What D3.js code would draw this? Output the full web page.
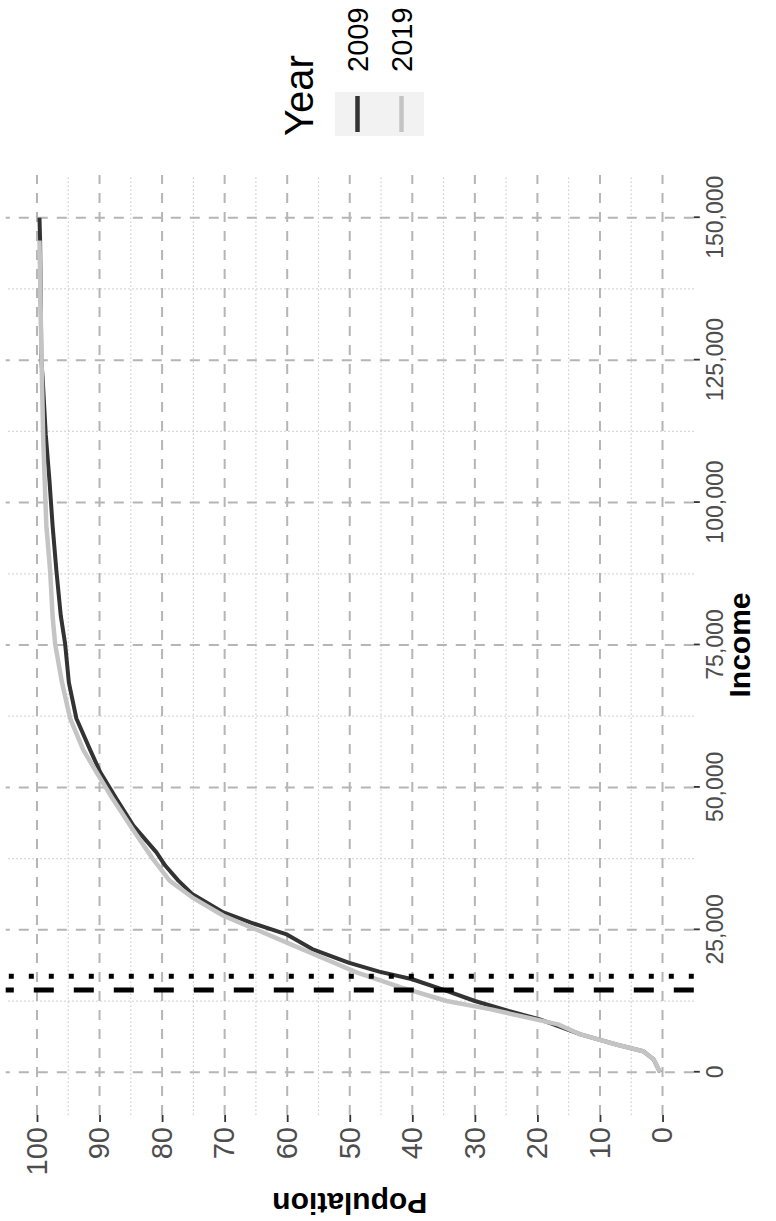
<!DOCTYPE html>
<meta charset="utf-8">
<script src="https://d3js.org/d3.v7.min.js"></script>
<style>
    body { margin: 0; background: white; }
    svg { display: block; font-family: "Liberation Sans", Arial, sans-serif; }
    .tick line { stroke: #333; stroke-width: 1.8; }
</style>
<body>
<div id="chart"></div>
<script>
    // cumulative share of population (%) against income
    const pop2009 = [0.4, 1.4, 3.1, 7.4, 13.1, 19.6, 24.6, 30, 34.5, 40, 45.3, 50.2, 56, 60.2, 65.9, 70.2,
                     75.2, 77.4, 79.5, 80.9, 84.6, 87.3, 89.9, 91.5, 93.7, 94.9, 95.5, 96.2, 96.9, 97.5,
                     98, 98.6, 99.1, 99.3, 99.5, 99.6];
    const inc2009 = [0, 2240, 3700, 4880, 6640, 9280, 10750, 12510, 14270, 16330, 17670, 19260, 21620, 24260, 26300, 28070,
                     31310, 33650, 36290, 38600, 43300, 48000, 52700, 56600, 62100, 68400, 75200, 80200, 88100, 95900,
                     103800, 112000, 122000, 125000, 146000, 150000];

    const pop2019 = [0.4, 1.4, 3.1, 7.4, 13.1, 16.7, 20.3, 27.4, 34.5, 41.7, 48.8, 54.5, 59.5, 64.5, 70.2,
                     75.2, 78.8, 81.5, 84.6, 87.9, 90.5, 92.6, 94.7, 96, 97.1, 97.5, 97.9, 98.5, 99,
                     99.3, 99.6];
    const inc2019 = [0, 2240, 3700, 4880, 6640, 8400, 9280, 11040, 12510, 14850, 17500, 20140, 22490, 24840, 27480,
                     30710, 33650, 37500, 42500, 48000, 52700, 56600, 62100, 68400, 75200, 80000, 88100, 95900, 111000,
                     126600, 146000];

    const years = ["2009", "2019"];
    const yearColor = ["#333333", "#c4c4c4"];
    const refIncome = [14450, 16860];           // dashed, dotted
    const incomeTicks = [0, 25000, 50000, 75000, 100000, 125000, 150000];
    const popTicks = [0, 10, 20, 30, 40, 50, 60, 70, 80, 90, 100];

    // the chart is drawn upright and then turned a quarter counter-clockwise
    const W = 1221, H = 776;
    const svg = d3.select("#chart").append("svg")
        .attr("width", H)
        .attr("height", W);
    const g = svg.append("g")
        .attr("transform", "translate(0," + W + ") rotate(-90)");

    const x = d3.scaleLinear().domain([-7500, 157500]).range([106, 1046]);
    const y = d3.scaleLinear().domain([-5, 105]).range([693.8, 5.7]);
    const pTop = y.range()[1], pBottom = y.range()[0];
    const pLeft = x.range()[0], pRight = x.range()[1];

    // minor grid
    const minorX = d3.range(12500, 157500, 25000);
    const minorY = d3.range(5, 105, 10);
    g.selectAll(".minx").data(minorX).join("line")
        .attr("x1", d => x(d)).attr("x2", d => x(d))
        .attr("y1", pBottom).attr("y2", pTop)
        .attr("stroke", "#cdcdcd").attr("stroke-width", 1.2).attr("stroke-dasharray", "1.5,2.5");
    g.selectAll(".miny").data(minorY).join("line")
        .attr("x1", pLeft).attr("x2", pRight)
        .attr("y1", d => y(d)).attr("y2", d => y(d))
        .attr("stroke", "#cdcdcd").attr("stroke-width", 1.2).attr("stroke-dasharray", "1.5,2.5");

    // major grid
    g.selectAll(".majx").data(incomeTicks).join("line")
        .attr("x1", d => x(d)).attr("x2", d => x(d))
        .attr("y1", pBottom).attr("y2", pTop)
        .attr("stroke", "#b5b5b5").attr("stroke-width", 2).attr("stroke-dasharray", "10,9");
    g.selectAll(".majy").data(popTicks).join("line")
        .attr("x1", pLeft).attr("x2", pRight)
        .attr("y1", d => y(d)).attr("y2", d => y(d))
        .attr("stroke", "#b5b5b5").attr("stroke-width", 2).attr("stroke-dasharray", "10,9");

    // curves
    const line = d3.line().x(d => x(d[1])).y(d => y(d[0]));
    const series = [d3.zip(pop2009, inc2009), d3.zip(pop2019, inc2019)];
    g.selectAll(".curve").data(series).join("path")
        .attr("d", line)
        .attr("fill", "none")
        .attr("stroke", (d, i) => yearColor[i])
        .attr("stroke-width", (d, i) => i ? 4.5 : 4)
        .attr("stroke-linejoin", "round");

    // reference lines
    g.selectAll(".ref").data(refIncome).join("line")
        .attr("x1", d => x(d)).attr("x2", d => x(d))
        .attr("y1", pBottom).attr("y2", pTop)
        .attr("stroke", "#000").attr("stroke-width", 5)
        .attr("stroke-dasharray", (d, i) => i ? "5,15" : "20,20");

    // axes
    const xAxis = g.append("g")
        .attr("transform", "translate(0," + pBottom + ")")
        .call(d3.axisBottom(x).tickValues(incomeTicks).tickFormat(d3.format(",")).tickSize(6).tickPadding(7));
    const yAxis = g.append("g")
        .attr("transform", "translate(" + pLeft + ",0)")
        .call(d3.axisLeft(y).tickValues(popTicks).tickSize(7).tickPadding(5));
    [xAxis, yAxis].forEach(a => {
        a.select(".domain").remove();
        a.selectAll("text").attr("fill", "#4d4d4d").style("font-family", "'Liberation Sans', Arial, sans-serif");
    });
    xAxis.selectAll("text").style("font-size", "23px");
    yAxis.selectAll("text").style("font-size", "29px");

    // axis titles
    g.append("text")
        .attr("x", (pLeft + pRight) / 2).attr("y", 750)
        .attr("text-anchor", "middle")
        .style("font-size", "30px").style("font-weight", "bold")
        .text("Income");
    g.append("text")
        .attr("transform", "translate(28," + (pTop + pBottom) / 2 + ") rotate(-90)")
        .attr("text-anchor", "middle")
        .style("font-size", "30px").style("font-weight", "bold")
        .text("Population");

    // legend
    const leg = g.append("g").attr("transform", "translate(1085,0)");
    leg.append("text")
        .attr("x", 0).attr("y", 313)
        .style("font-size", "40px")
        .text("Year");
    leg.append("rect")
        .attr("x", 0).attr("y", 335).attr("width", 44).attr("height", 89)
        .attr("fill", "#f2f2f2");
    years.forEach((yr, i) => {
        const cy = 357.5 + i * 44;
        leg.append("line")
            .attr("x1", 4).attr("x2", 40).attr("y1", cy).attr("y2", cy)
            .attr("stroke", yearColor[i]).attr("stroke-width", 4.5);
        leg.append("text")
            .attr("x", 64).attr("y", cy + 10.5)
            .style("font-size", "29px")
            .text(yr);
    });
</script>
</body>
